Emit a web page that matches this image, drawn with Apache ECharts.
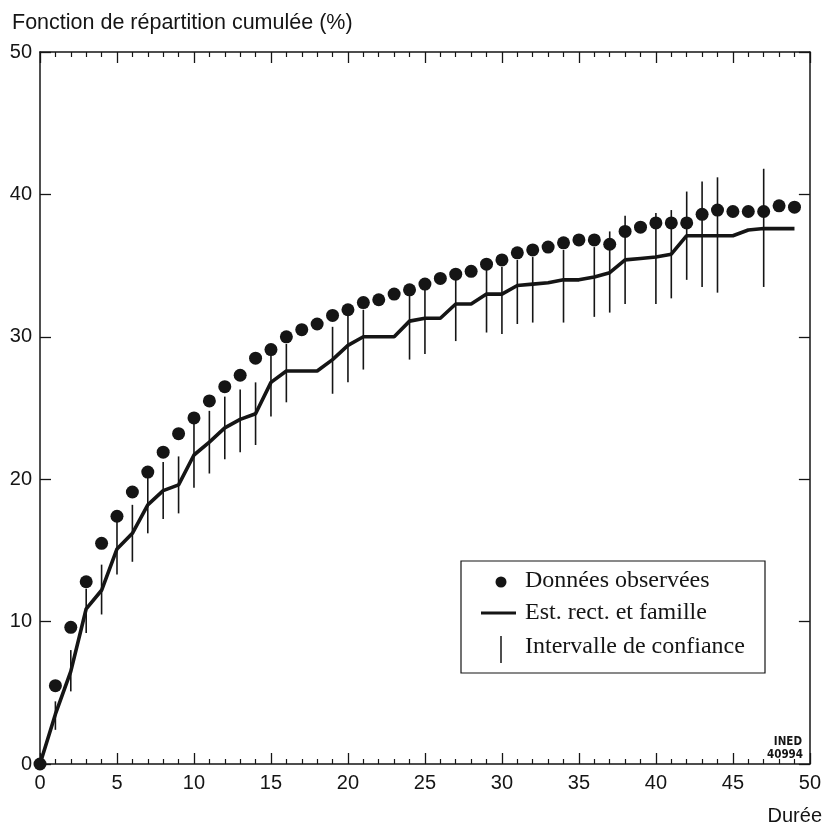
<!DOCTYPE html>
<html>
<head>
<meta charset="utf-8">
<script src="https://cdn.jsdelivr.net/npm/echarts@6/dist/echarts.min.js"></script>
<style>
html,body{margin:0;padding:0;background:#fff;}
#chart{width:824px;height:827px;}
</style>
</head>
<body>
<div id="chart"></div>
<script>
const durations = [0,1,2,3,4,5,6,7,8,9,10,11,12,13,14,15,16,17,18,19,20,21,22,23,24,25,26,27,28,29,30,31,32,33,34,35,36,37,38,39,40,41,42,43,44,45,46,47,48,49];
const observed = [0,5.5,9.6,12.8,15.5,17.4,19.1,20.5,21.9,23.2,24.3,25.5,26.5,27.3,28.5,29.1,30.0,30.5,30.9,31.5,31.9,32.4,32.6,33.0,33.3,33.7,34.1,34.4,34.6,35.1,35.4,35.9,36.1,36.3,36.6,36.8,36.8,36.5,37.4,37.7,38.0,38.0,38.0,38.6,38.9,38.8,38.8,38.8,39.2,39.1];
const estimate = [0,3.5,6.5,10.9,12.2,15.1,16.2,18.2,19.2,19.6,21.7,22.6,23.6,24.2,24.6,26.8,27.6,27.6,27.6,28.4,29.4,30.0,30.0,30.0,31.1,31.3,31.3,32.3,32.3,33.0,33.0,33.6,33.7,33.8,34.0,34.0,34.2,34.5,35.4,35.5,35.6,35.8,37.1,37.1,37.1,37.1,37.5,37.6,37.6,37.6];
const ciDur  = [1,2,3,4,5,6,7,8,9,10,11,12,13,14,15,16,19,20,21,24,25,27,29,30,31,32,34,36,37,38,40,41,42,43,44,47];
const ciLow  = [2.4,5.1,9.2,10.5,13.3,14.2,16.2,17.2,17.6,19.4,20.4,21.4,21.9,22.4,24.4,25.4,26.0,26.8,27.7,28.4,28.8,29.7,30.3,30.2,30.9,31.0,31.0,31.4,31.7,32.3,32.3,32.7,34.0,33.5,33.1,33.5];
const ciHigh = [4.4,8.0,12.3,14.0,17.0,18.2,20.1,21.2,21.6,23.9,24.8,25.8,26.3,26.8,28.9,29.5,30.7,31.5,31.9,32.9,33.3,34.1,34.7,34.9,35.4,35.6,36.1,36.3,37.4,38.5,38.7,38.9,40.2,40.9,41.2,41.8];
const xTicks = [0,5,10,15,20,25,30,35,40,45,50];
const yTicks = [0,10,20,30,40,50];

const titleText = 'Fonction de répartition cumulée (%)';
const xName = 'Durée';
const legendNames = ['Données observées','Est. rect. et famille','Intervalle de confiance'];
const sourceNote = ['INED','40994'];

const ink = '#151515';
const sans = 'Liberation Sans, Arial, Helvetica, sans-serif';
const serif = 'Liberation Serif, Times New Roman, serif';
const narrow = 'Liberation Sans Narrow, DejaVu Sans Condensed, Liberation Sans, sans-serif';

const chart = echarts.init(document.getElementById('chart'), null, {renderer:'canvas'});

function axisBase(extra){
  return Object.assign({
    type:'value', min:0, max:50,
    axisLine:{show:true, onZero:false, lineStyle:{color:ink, width:1.5}},
    splitLine:{show:false},
    minorSplitLine:{show:false}
  }, extra);
}

const option = {
  backgroundColor:'#fff',
  animation:false,
  title:{
    text:titleText, left:12, top:12, padding:0,
    textStyle:{fontFamily:sans, fontSize:21.5, fontWeight:'normal', color:ink}
  },
  grid:{left:40, right:13, top:52, bottom:63, containLabel:false},
  xAxis:[
    axisBase({
      position:'bottom', interval:5,
      axisTick:{show:true, inside:true, length:11, lineStyle:{color:ink, width:1.3}},
      minorTick:{show:true, splitNumber:5, length:5, lineStyle:{color:ink, width:1.2}},
      axisLabel:{show:true, inside:false, margin:9, fontFamily:sans, fontSize:20, color:ink,
        formatter:function(v){return xTicks.indexOf(v)>=0 ? String(v) : '';}}
    }),
    axisBase({
      position:'top', interval:5,
      axisTick:{show:true, inside:true, length:11, lineStyle:{color:ink, width:1.3}},
      minorTick:{show:true, splitNumber:5, length:5, lineStyle:{color:ink, width:1.2}},
      axisLabel:{show:false}
    })
  ],
  yAxis:[
    axisBase({
      position:'left', interval:10,
      axisTick:{show:true, inside:true, length:11, lineStyle:{color:ink, width:1.3}},
      axisLabel:{show:true, inside:false, margin:8, fontFamily:sans, fontSize:20, color:ink,
        formatter:function(v){return yTicks.indexOf(v)>=0 ? String(v) : '';}}
    }),
    axisBase({
      position:'right', interval:10,
      axisTick:{show:true, inside:true, length:11, lineStyle:{color:ink, width:1.3}},
      axisLabel:{show:false}
    })
  ],
  series:[
    {
      name:legendNames[2], type:'custom', xAxisIndex:0, yAxisIndex:0, clip:false,
      data: ciDur.map(function(d,i){return [d, ciLow[i], ciHigh[i]];}),
      encode:{x:0, y:[1,2]},
      renderItem:function(params, api){
        const p1 = api.coord([api.value(0), api.value(1)]);
        const p2 = api.coord([api.value(0), api.value(2)]);
        return {type:'line', shape:{x1:p1[0], y1:p1[1], x2:p2[0], y2:p2[1]},
          style:{stroke:ink, lineWidth:1.6}};
      }
    },
    {
      name:legendNames[1], type:'line', xAxisIndex:0, yAxisIndex:0, clip:false,
      data: durations.map(function(d,i){return [d, estimate[i]];}),
      symbol:'none', lineStyle:{color:ink, width:3.6}
    },
    {
      name:legendNames[0], type:'scatter', xAxisIndex:0, yAxisIndex:0, clip:false,
      data: durations.map(function(d,i){return [d, observed[i]];}),
      symbol:'circle', symbolSize:13, itemStyle:{color:ink, opacity:1}
    }
  ],
  graphic:[
    {type:'text', right:2, top:806, style:{text:xName, fontFamily:sans, fontSize:20, fill:ink}},
    {type:'text', x:802, y:742, style:{text:sourceNote[0], fontFamily:narrow, fontWeight:'bold', fontSize:11.5, fill:ink, textAlign:'right', textVerticalAlign:'middle'}},
    {type:'text', x:803, y:755, style:{text:sourceNote[1], fontFamily:narrow, fontWeight:'bold', fontSize:11.5, fill:ink, textAlign:'right', textVerticalAlign:'middle'}},
    {type:'rect', shape:{x:461, y:561, width:304, height:112}, style:{fill:'#fff', stroke:ink, lineWidth:1.2}, z:10},
    {type:'circle', shape:{cx:501, cy:582, r:5.5}, style:{fill:ink}, z:11},
    {type:'line', shape:{x1:481, y1:613, x2:516, y2:613}, style:{stroke:ink, lineWidth:3.2}, z:11},
    {type:'line', shape:{x1:501, y1:636, x2:501, y2:663}, style:{stroke:ink, lineWidth:1.5}, z:11},
    {type:'text', x:525, y:581, style:{text:legendNames[0], fontFamily:serif, fontSize:24, fill:ink, textVerticalAlign:'middle'}, z:11},
    {type:'text', x:525, y:613, style:{text:legendNames[1], fontFamily:serif, fontSize:24, fill:ink, textVerticalAlign:'middle'}, z:11},
    {type:'text', x:525, y:647, style:{text:legendNames[2], fontFamily:serif, fontSize:24, fill:ink, textVerticalAlign:'middle'}, z:11}
  ]
};
chart.setOption(option);
</script>
</body>
</html>
